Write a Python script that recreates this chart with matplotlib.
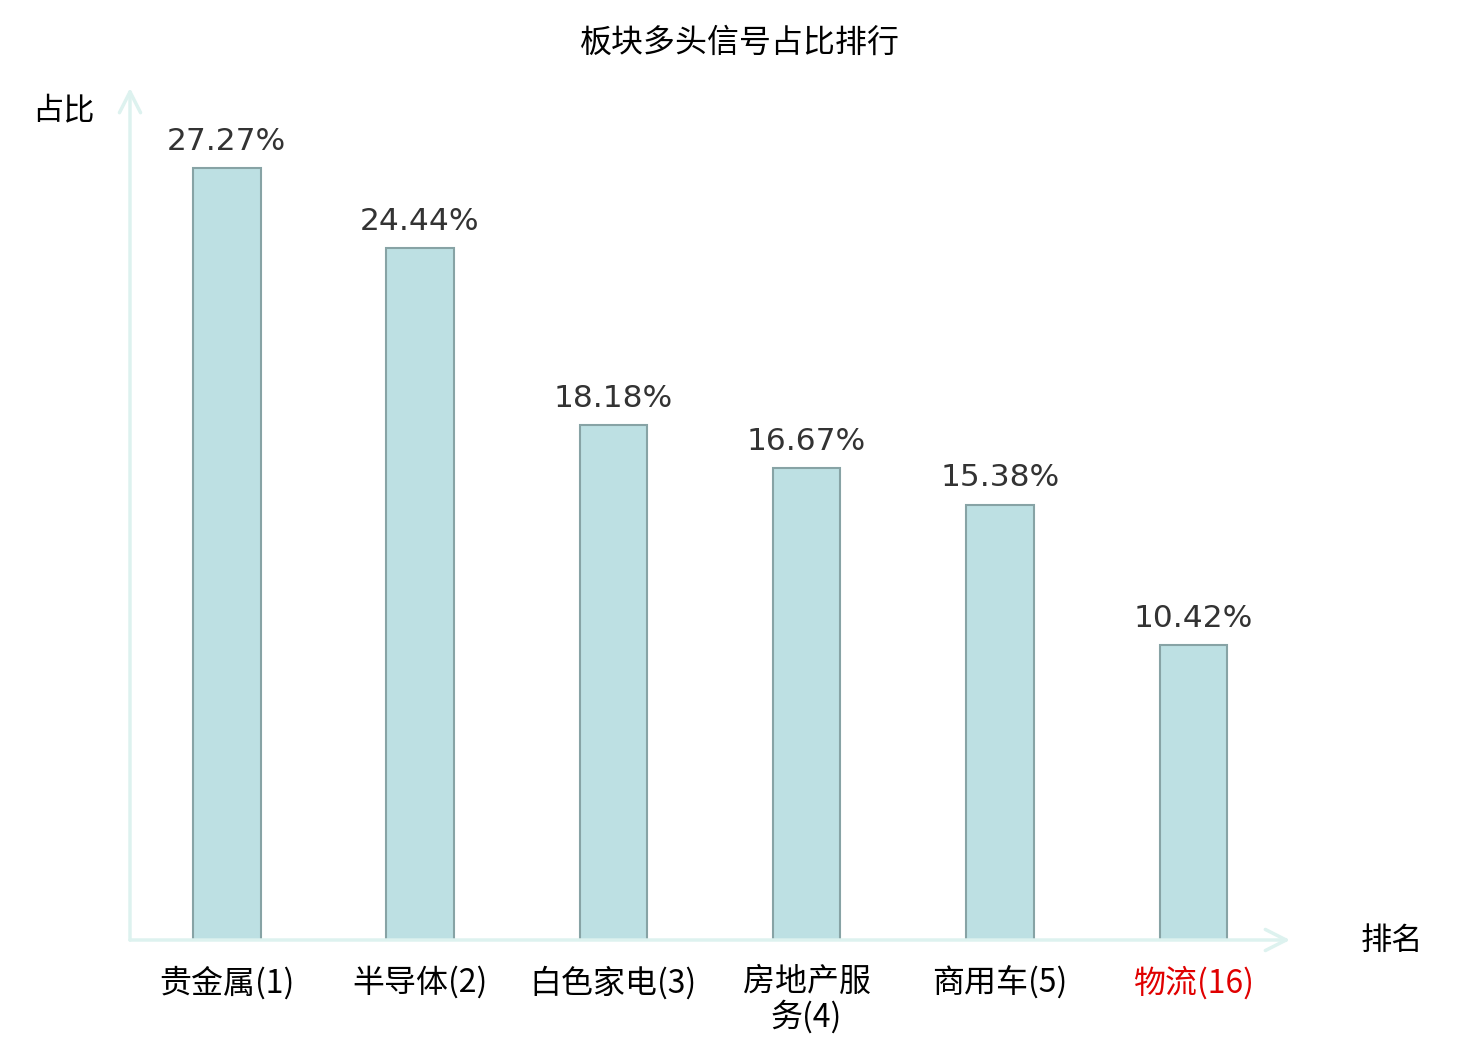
import matplotlib
matplotlib.use("Agg")
import matplotlib.pyplot as plt

categories = ["贵金属(1)", "半导体(2)", "白色家电(3)", "房地产服\n务(4)", "商用车(5)", "物流(16)"]
values = [27.27, 24.44, 18.18, 16.67, 15.38, 10.42]
label_colors = ["#000000", "#000000", "#000000", "#000000", "#000000", "#e00000"]
title = "板块多头信号占比排行"

plt.rcParams['font.family'] = ['Noto Sans CJK SC', 'DejaVu Sans']

fig = plt.figure(figsize=(14.8, 10.4), dpi=100)
ax = fig.add_axes([130/1480, 100/1040, 1160/1480, 852/1040])

x = list(range(len(categories)))
ax.bar(x, values, width=0.35, color="#bde0e3", edgecolor="#87a3a5", linewidth=1.5, zorder=2)
for xi, v in zip(x, values):
    ax.annotate(f"{v:.2f}%", (xi, v), xytext=(0, 9), textcoords="offset points",
                ha="center", va="bottom", fontsize=22.5, color="#333333", family="DejaVu Sans")

ax.set_xlim(-0.5, 5.5)
ax.set_ylim(0, 30.1)
for s in ax.spines.values():
    s.set_visible(False)
ax.set_yticks([])
ax.set_xticks(x)
ax.set_xticklabels(categories, fontsize=23, linespacing=1.05)
for t, c in zip(ax.get_xticklabels(), label_colors):
    t.set_color(c)
ax.tick_params(axis="x", length=0, pad=19)

arrow_color = "#ddf2ef"
aprops = dict(arrowstyle="->,head_length=0.75,head_width=0.38", color=arrow_color, lw=2.5,
              shrinkA=0, shrinkB=0, mutation_scale=20)
ax.annotate("", xy=(1.0, 0), xytext=(0, 0), xycoords="axes fraction", arrowprops=aprops)
ax.annotate("", xy=(0, 1.0), xytext=(0, 0), xycoords="axes fraction", arrowprops=aprops)

fig.text(63/1480, 1 - 110/1040, "占比", fontsize=22.5, ha="center", va="center")
fig.text(1392/1480, 1 - 941/1040, "排名", fontsize=22.5, ha="center", va="center")
fig.text(740/1480, 1 - 43/1040, title, fontsize=23, ha="center", va="center")

fig.savefig("out.png", dpi=100, facecolor="white")
